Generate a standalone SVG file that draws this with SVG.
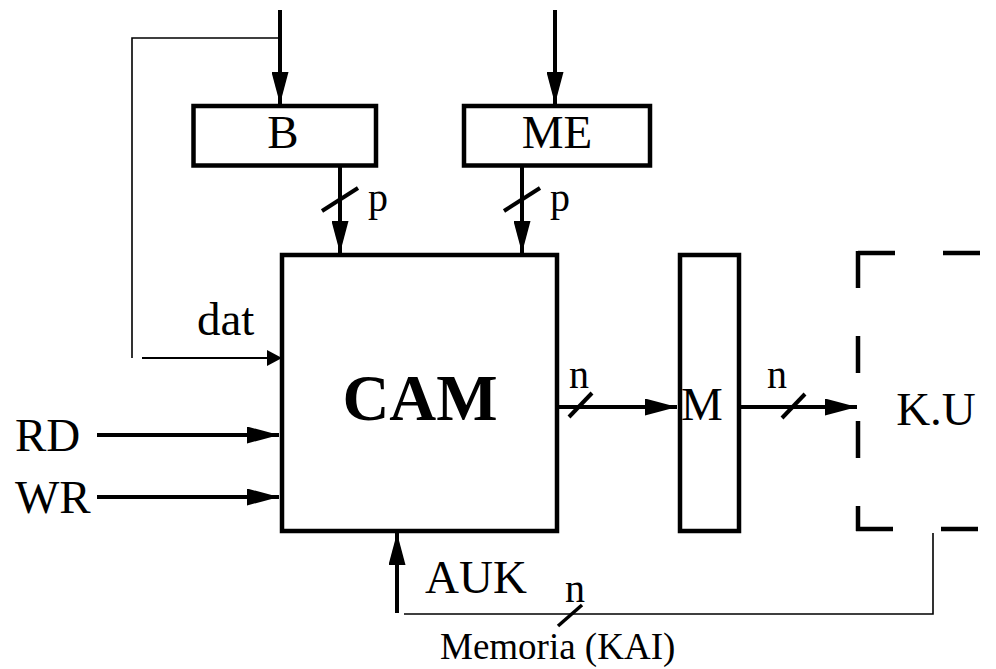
<svg xmlns="http://www.w3.org/2000/svg" width="996" height="669" viewBox="0 0 996 669">
<style>
.box{fill:none;stroke:#000;stroke-width:4.5}
.thick{fill:none;stroke:#000;stroke-width:4}
.thin{fill:none;stroke:#000;stroke-width:1.6}
.dash{fill:none;stroke:#000;stroke-width:4.5;stroke-dasharray:37 48}
.lbl{font-size:47px}
.sm{font-size:40px}
</style>
<defs>
<marker id="ah" markerUnits="userSpaceOnUse" markerWidth="32" markerHeight="17" refX="32" refY="8.5" orient="auto">
<path d="M0,0 L32,8.5 L0,17 Z" fill="#000"/>
</marker>
<marker id="ahs" markerUnits="userSpaceOnUse" markerWidth="15" markerHeight="16" refX="15" refY="8" orient="auto">
<path d="M0,0 L15,8 L0,16 Z" fill="#000"/>
</marker>
</defs>
<g id="connectors">
<line class="thick" x1="280" y1="10" x2="280" y2="104" marker-end="url(#ah)"/>
<line class="thick" x1="555" y1="10" x2="555" y2="104" marker-end="url(#ah)"/>
<line class="thick" x1="340" y1="166" x2="340" y2="253" marker-end="url(#ah)"/>
<line class="thick" x1="322" y1="211" x2="358" y2="188"/>
<line class="thick" x1="522" y1="166" x2="522" y2="253" marker-end="url(#ah)"/>
<line class="thick" x1="504" y1="211" x2="540" y2="188"/>
<polyline class="thin" points="280,38 132,38 132,358"/>
<line class="thin" style="stroke-width:2.2" x1="142" y1="358" x2="282" y2="358" marker-end="url(#ahs)"/>
<line class="thick" x1="97" y1="435" x2="279" y2="435" marker-end="url(#ah)"/>
<line class="thick" x1="97" y1="497" x2="279" y2="497" marker-end="url(#ah)"/>
<line class="thick" x1="557" y1="407" x2="677" y2="407" marker-end="url(#ah)"/>
<line class="thick" x1="569" y1="417" x2="592" y2="393"/>
<line class="thick" x1="739" y1="407" x2="857" y2="407" marker-end="url(#ah)"/>
<line class="thick" x1="782" y1="418" x2="805" y2="394"/>
<polyline class="thin" points="933,533 933,614 404,614"/>
<line class="thick" x1="397" y1="613" x2="397" y2="533" marker-end="url(#ah)"/>
<line class="thick" style="stroke-width:3.5" x1="558" y1="626" x2="582" y2="605"/>
</g>
<g font-family="Liberation Serif, Times New Roman, DejaVu Serif, serif" fill="#000">
<g id="B">
<rect class="box" x="193.5" y="106" width="182.5" height="59.5"/>
<text class="lbl" x="283" y="148" text-anchor="middle">B</text>
</g>
<g id="ME">
<rect class="box" x="464" y="106" width="186" height="59.5"/>
<text class="lbl" x="557" y="148" text-anchor="middle">ME</text>
</g>
<g id="CAM">
<rect class="box" x="282" y="255" width="275" height="276"/>
<text x="420" y="420" text-anchor="middle" font-size="65" font-weight="bold">CAM</text>
</g>
<g id="M">
<rect class="box" x="680" y="255" width="59" height="276"/>
<text class="lbl" x="702" y="420" text-anchor="middle">M</text>
</g>
<g id="KU">
<line class="dash" x1="858" y1="253" x2="996" y2="253"/>
<line class="dash" x1="858" y1="251" x2="858" y2="531"/>
<line class="dash" x1="856" y1="529" x2="996" y2="529"/>
<text class="lbl" x="936" y="425" text-anchor="middle">K.U</text>
</g>
<g id="labels">
<text class="sm" x="368" y="211">p</text>
<text class="sm" x="550" y="211">p</text>
<text class="lbl" x="197" y="335">dat</text>
<text class="lbl" x="15" y="451">RD</text>
<text class="lbl" x="15" y="513">WR</text>
<text class="sm" x="569" y="388">n</text>
<text class="sm" x="767" y="388">n</text>
<text class="lbl" x="425" y="593">AUK</text>
<text class="sm" x="565" y="602">n</text>
<text x="440" y="659" font-size="37">Memoria (KAI)</text>
</g>
</g>
</svg>
